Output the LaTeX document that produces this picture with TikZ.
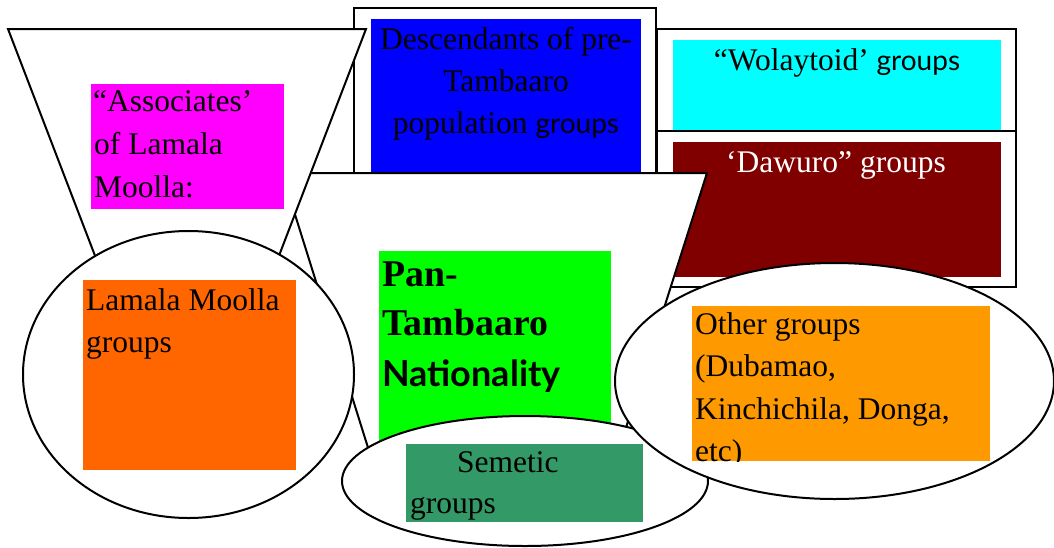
\documentclass[tikz,border=0pt]{standalone}
\usepackage{fontspec}
\setmainfont{Liberation Serif}
\newfontfamily\gillfont{Lato}
\definecolor{cMag}{RGB}{255,0,255}
\definecolor{cBlue}{RGB}{0,0,255}
\definecolor{cCyan}{RGB}{0,255,255}
\definecolor{cMaroon}{RGB}{128,0,0}
\definecolor{cGreen}{RGB}{0,255,0}
\definecolor{cOrRed}{RGB}{255,102,0}
\definecolor{cOrange}{RGB}{255,153,0}
\definecolor{cTeal}{RGB}{51,153,102}
\begin{document}
\begin{tikzpicture}[x=1pt,y=-1pt,
  outline/.style={draw=black, line width=2pt},
  shapew/.style={draw=black, fill=white, line width=2pt},
  txt/.style={inner sep=0pt, font=\fontsize{31.5}{43}\selectfont},
  bold/.style={inner sep=0pt, font=\bfseries\fontsize{37.8}{50}\selectfont}]
\useasboundingbox (0,0) rectangle (1054,547);
% right rectangles
\draw[shapew] (657,29) rectangle (1016,131);
\fill[cCyan] (673,40) rectangle (1001,130);
\draw[shapew] (657,131) rectangle (1016,287);
\fill[cMaroon] (673,142) rectangle (1001,277);
\node[txt, anchor=base] (wo) at (837,70) {“Wolaytoid’ {\gillfont\fontsize{28}{28}\selectfont groups}};
\node[txt, anchor=base, text=white] (da) at (836,172) {‘Dawuro” groups};
% center rectangle
\fill[cBlue] (371,19) rectangle (641,172);
\draw[outline] (354,8) rectangle (656,173);
\node[txt, anchor=base] (de1) at (506,49) {Descendants of pre-};
\node[txt, anchor=base] (de2) at (506,91) {Tambaaro};
\node[txt, anchor=base] (de3) at (506,133) {population {\gillfont\fontsize{28}{28}\selectfont groups}};
% center trapezoid
\draw[shapew] (282,173) -- (707,173) -- (612.5,470) -- (375,470) -- cycle;
\fill[cGreen] (379,251) rectangle (611,446);
\node[bold, anchor=base west] (pt1) at (382,286) {Pan-};
\node[bold, anchor=base west] (pt2) at (382,335) {Tambaaro};
\node[inner sep=0pt, anchor=base west, font=\gillfont\bfseries\fontsize{36}{50}\selectfont] (pt3) at (382,386) {Nationality};
% left funnel
\draw[shapew] (8,29) -- (366,29) -- (262,300) -- (112,300) -- cycle;
\fill[cMag] (91,84) rectangle (284,209);
\node[txt, anchor=base west] (as1) at (93,111) {“Associates’};
\node[txt, anchor=base west] (as2) at (94,154) {of Lamala};
\node[txt, anchor=base west] (as3) at (94,197) {Moolla:};
% semetic ellipse
\draw[shapew] (525,481) ellipse [x radius=183pt, y radius=65pt];
\fill[cTeal] (406,444) rectangle (643,522);
\node[txt, anchor=base west] (se1) at (457,472) {Semetic};
\node[txt, anchor=base west] (se2) at (410,513) {groups};
% right ellipse
\draw[shapew] (834.5,381) ellipse [x radius=219.5pt, y radius=118pt];
\fill[cOrange] (692,306) rectangle (990,461);
\node[txt, anchor=base west] (ot1) at (695,334) {Other groups};
\node[txt, anchor=base west] (ot2) at (695,376) {(Dubamao,};
\node[txt, anchor=base west] (ot3) at (695,419) {Kinchichila, Donga,};
\begin{scope}
\clip (692,306) rectangle (990,461);
\node[txt, anchor=base west] (ot4) at (695,461) {etc)};
\end{scope}
% left ellipse
\draw[shapew] (188.5,374.5) ellipse [x radius=165.5pt, y radius=143.5pt];
\fill[cOrRed] (83,280) rectangle (296,470);
\node[txt, anchor=base west] (lm1) at (86,310) {Lamala Moolla};
\node[txt, anchor=base west] (lm2) at (86,352) {groups};
\end{tikzpicture}
\end{document}
